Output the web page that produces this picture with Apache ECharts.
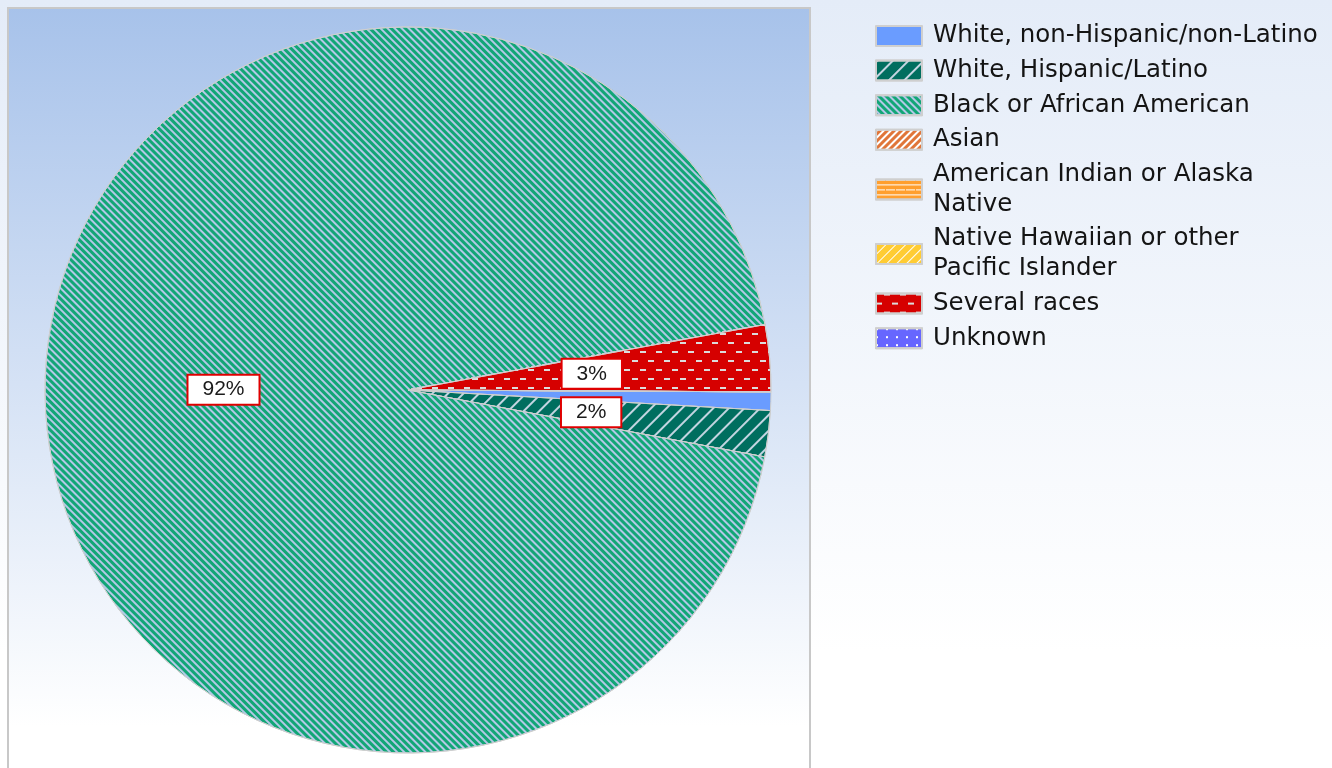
<!DOCTYPE html>
<html>
<head>
<meta charset="utf-8">
<script src="https://cdn.jsdelivr.net/npm/echarts@6/dist/echarts.min.js"></script>
<style>
html,body{margin:0;padding:0;background:#fff;}
#chart{width:1332px;height:768px;}
</style>
</head>
<body>
<div id="chart"></div>
<script>
// ---- data ----
const categories = [
  'White, non-Hispanic/non-Latino',
  'White, Hispanic/Latino',
  'Black or African American',
  'Asian',
  'American Indian or Alaska Native',
  'Native Hawaiian or other Pacific Islander',
  'Several races',
  'Unknown'
];
const values = [0.8, 2.0, 92, 0, 0, 0, 2.9, 0];
const legendLines = [
  'White, non-Hispanic/non-Latino',
  'White, Hispanic/Latino',
  'Black or African American',
  'Asian',
  'American Indian or Alaska\nNative',
  'Native Hawaiian or other\nPacific Islander',
  'Several races',
  'Unknown'
];

// ---- styles ----
const colors = ['#6a9cff', '#006e5f', '#12a676', '#e0763a', '#ff9f2e', '#ffcc33', '#d60000', '#6666ff'];
const decals = [
  null,
  {symbol: 'rect', symbolSize: 1, color: 'rgba(205,218,232,0.95)', dashArrayX: [1, 0], dashArrayY: [2, 9], rotation: -Math.PI / 4},
  {symbol: 'rect', symbolSize: 1, color: '#b3c8e6', dashArrayX: [1, 0], dashArrayY: [2, 3], rotation: Math.PI / 4},
  {symbol: 'rect', symbolSize: 1, color: '#ffffff', dashArrayX: [1, 0], dashArrayY: [2, 3], rotation: -Math.PI / 4},
  {symbol: 'rect', symbolSize: 1, color: '#ffffff', dashArrayX: [[1, 0], [9, 1]], dashArrayY: [1, 4], rotation: 0},
  {symbol: 'rect', symbolSize: 1, color: '#ffffff', dashArrayX: [1, 0], dashArrayY: [1, 6], rotation: -Math.PI / 4},
  {symbol: 'rect', symbolSize: 1, color: '#dcdcdc', dashArrayX: [[6, 10], [0, 8, 6, 2]], dashArrayY: [2, 7], rotation: 0},
  {symbol: 'rect', symbolSize: 1, color: '#ffffff', dashArrayX: [[2, 8]], dashArrayY: [2, 6], rotation: 0}
];

const data = categories.map((name, i) => {
  const item = {
    name: name,
    value: values[i],
    itemStyle: {color: colors[i]},
    label: {show: values[i] > 0}
  };
  if (decals[i]) item.itemStyle.decal = decals[i];
  return item;
});

const chart = echarts.init(document.getElementById('chart'));
chart.setOption({
  animation: false,
  graphic: [
    {
      type: 'rect', z: -10, silent: true,
      shape: {x: 0, y: 0, width: 1332, height: 768},
      style: {fill: new echarts.graphic.LinearGradient(0, 0, 0, 1, [
        {offset: 0, color: '#e4ecf8'}, {offset: 0.85, color: '#ffffff'}, {offset: 1, color: '#ffffff'}
      ])}
    },
    {
      type: 'rect', z: -9, silent: true,
      shape: {x: 8, y: 8, width: 802, height: 780},
      style: {
        fill: new echarts.graphic.LinearGradient(0, 0, 0, 1, [
          {offset: 0, color: '#a7c2ea'}, {offset: 0.92, color: '#ffffff'}, {offset: 1, color: '#ffffff'}
        ]),
        stroke: '#c8c8c8', lineWidth: 2
      }
    }
  ],
  legend: {
    orient: 'vertical',
    left: 870,
    top: 16,
    icon: 'rect',
    itemWidth: 46,
    itemHeight: 20,
    itemGap: 4.6,
    formatter: function (name) { return legendLines[categories.indexOf(name)]; },
    itemStyle: {borderColor: '#cfcfcf', borderWidth: 2},
    textStyle: {
      fontFamily: 'DejaVu Sans',
      fontSize: 24.5,
      lineHeight: 30,
      color: '#141414',
      padding: [0, 0, 0, 6]
    },
    data: categories
  },
  series: [{
    type: 'pie',
    center: [408, 390],
    radius: 363,
    startAngle: 359.7,
    clockwise: true,
    avoidLabelOverlap: false,
    stillShowZeroSum: false,
    itemStyle: {borderColor: '#cfcfcf', borderWidth: 1},
    label: {
      position: 'inside',
      formatter: function (p) { return Math.round(p.value) + '%'; },
      fontFamily: 'Liberation Sans',
      fontSize: 21,
      lineHeight: 22,
      color: '#1a1a1a',
      backgroundColor: '#ffffff',
      borderColor: '#e00000',
      borderWidth: 2,
      padding: [3, 14, 3, 14]
    },
    labelLine: {show: false},
    emphasis: {disabled: true},
    data: data
  }]
});
</script>
</body>
</html>
